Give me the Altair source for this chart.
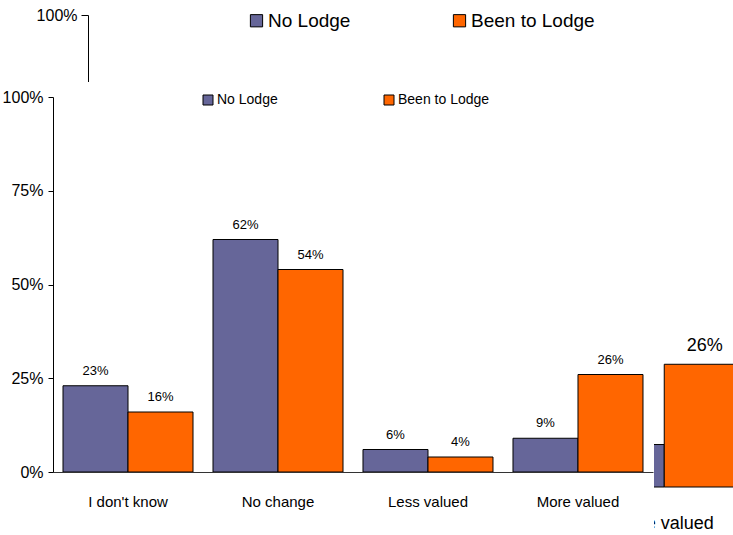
import altair as alt
import pandas as pd

categories = ["I don't know", "No change", "Less valued", "More valued"]
groups = ["No Lodge", "Been to Lodge"]
no_lodge = [0.23, 0.62, 0.06, 0.09]
been_to_lodge = [0.16, 0.54, 0.04, 0.26]
colors = ["#666699", "#FF6600"]
y_ticks = [0, 0.25, 0.5, 0.75, 1.0]

rows = []
for c, a, b in zip(categories, no_lodge, been_to_lodge):
    rows.append({"category": c, "group": groups[0], "value": a})
    rows.append({"category": c, "group": groups[1], "value": b})
df = pd.DataFrame(rows)

FONT = "Liberation Sans Narrow, Arial Narrow, Liberation Sans, Arial, sans-serif"

# ---- background (larger, partly hidden) copy of the chart ----
bg_base = alt.Chart(df).encode(
    x=alt.X("category:N", sort=categories,
            scale=alt.Scale(range=[-45, 705], paddingInner=0.1333, paddingOuter=0.0667),
            axis=alt.Axis(orient="bottom", offset=15, title=None, labelAngle=0, ticks=False,
                          values=["More valued"],
                          labelFontSize=18, labelPadding=27, domain=False, zindex=0,
                          labelFont=FONT, labelColor="black")),
    xOffset=alt.XOffset("group:N", sort=groups),
    y=alt.Y("value:Q",
            scale=alt.Scale(domain=[0, 1], range=[390, -82], nice=False),
            axis=alt.Axis(orient="left", offset=-35, format="%", values=[1.0], title=None,
                          grid=False, tickSize=7, labelPadding=4, labelFontSize=16,
                          domainColor="black", tickColor="black", zindex=0,
                          labelFont=FONT, labelColor="black")),
)
bg_bars = bg_base.mark_bar(stroke="black", strokeWidth=1).encode(
    color=alt.Color("group:N", sort=groups,
                    scale=alt.Scale(domain=groups, range=colors),
                    legend=alt.Legend(orient="none", legendX=194, legendY=-86,
                                      direction="horizontal", columns=2, title=None,
                                      labelFontSize=19, labelFont=FONT, labelColor="black",
                                      symbolType="square", symbolSize=150,
                                      symbolStrokeColor="black", symbolStrokeWidth=1,
                                      columnPadding=99, labelOffset=2, padding=0))
)
bg_text = bg_base.transform_filter(
    "datum.category == 'More valued' && datum.group == 'Been to Lodge'"
).mark_text(font=FONT, fontSize=18, dy=-13, baseline="alphabetic",
            color="black").encode(text=alt.Text("value:Q", format=".0%"))
bg = alt.layer(bg_bars, bg_text)

# ---- white cover of the front chart ----
cover = alt.Chart(pd.DataFrame({"k": [0]})).mark_rect(color="white").encode(
    x=alt.value(-53), x2=alt.value(601), y=alt.value(-15), y2=alt.value(438)
)

# ---- front chart ----
base = alt.Chart(df).encode(
    x=alt.X("category:N", sort=categories,
            scale=alt.Scale(paddingInner=0.1333, paddingOuter=0.0667),
            axis=alt.Axis(orient="bottom", title=None, labelAngle=0, ticks=False,
                          labelFontSize=15, labelPadding=22, domainColor="#333333",
                          zindex=1, labelFont=FONT, labelColor="black")),
    xOffset=alt.XOffset("group:N", sort=groups),
    y=alt.Y("value:Q", scale=alt.Scale(domain=[0, 1], nice=False),
            axis=alt.Axis(orient="left", format="%", values=y_ticks, title=None, grid=False,
                          tickSize=5, labelPadding=5, labelFontSize=16,
                          domainColor="black", tickColor="black", zindex=1,
                          labelFont=FONT, labelColor="black")),
)
bars = base.mark_bar(stroke="black", strokeWidth=1).encode(
    color=alt.Color("group:N", sort=groups,
                    scale=alt.Scale(domain=groups, range=colors),
                    legend=alt.Legend(orient="none", legendX=148, legendY=-4,
                                      direction="horizontal", columns=2, title=None,
                                      labelFontSize=14, labelFont=FONT, labelColor="black",
                                      symbolType="square", symbolSize=100,
                                      symbolStrokeColor="black", symbolStrokeWidth=1,
                                      columnPadding=104, labelOffset=2, padding=0))
)
text = base.mark_text(font=FONT, fontSize=13, dy=-11, baseline="alphabetic",
                      color="black").encode(text=alt.Text("value:Q", format=".0%"))
front = alt.layer(bars, text)

chart = alt.layer(bg, cover, front).resolve_scale(
    x="independent", y="independent", color="independent", xOffset="independent"
).resolve_axis(x="independent", y="independent").resolve_legend(
    color="independent"
).properties(
    width=600, height=375, autosize=alt.AutoSizeParams(type="none"),
    padding={"left": 53, "top": 97, "right": 80, "bottom": 63},
).configure_view(stroke=None).configure(background="white")

chart.save("out.html", embed_options={"renderer": "svg", "actions": False})
